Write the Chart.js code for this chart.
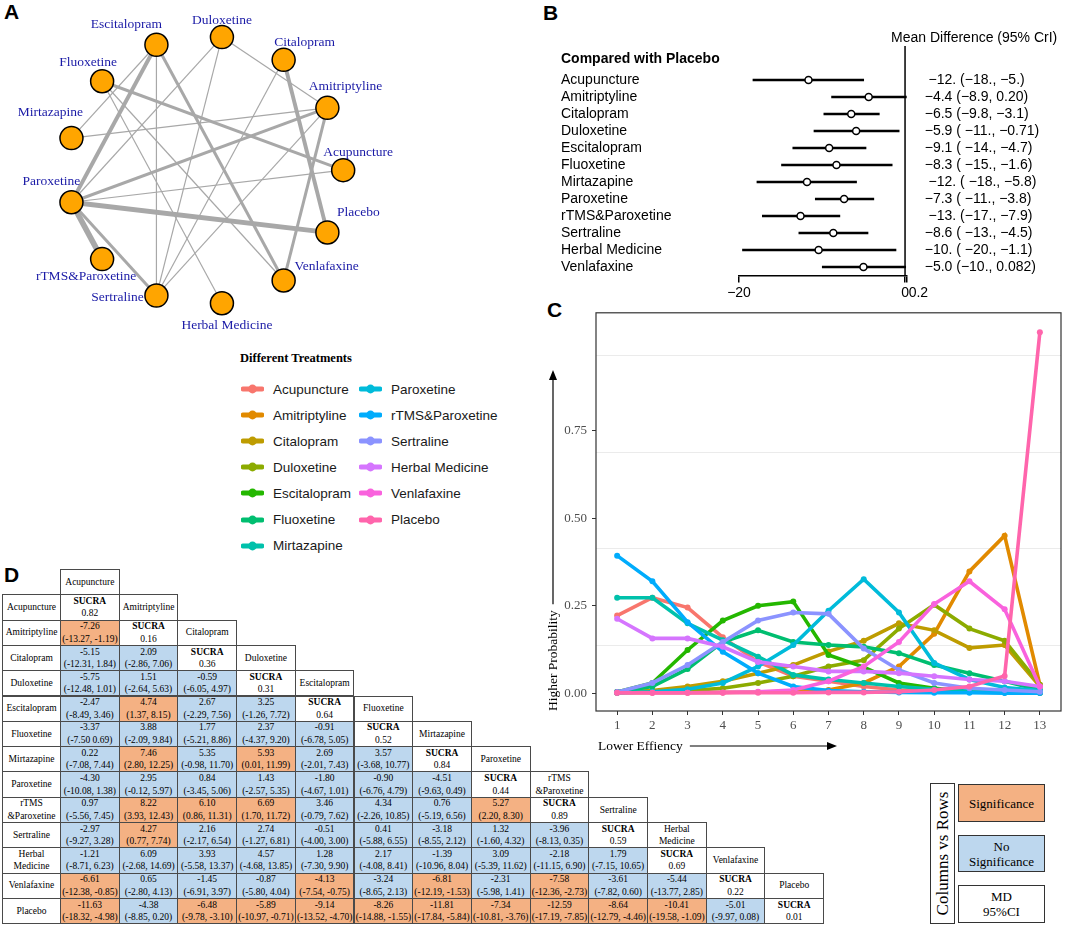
<!DOCTYPE html>
<html>
<head>
<meta charset="utf-8">
<script src="https://cdn.jsdelivr.net/npm/chart.js@4.4.1/dist/chart.umd.min.js"></script>
<style>
  body { margin: 0; background: #fff; width: 1065px; height: 926px; position: relative; overflow: hidden; font-family: "Liberation Sans", Arial, sans-serif; }
  .box { position: absolute; }
  .tag { position: absolute; font: bold 21px/21px "Liberation Sans", Arial, sans-serif; color: #000; }
  .cell { position: absolute; box-sizing: border-box; border: 1px solid #4a4a4a; display: flex; flex-direction: column; align-items: center; justify-content: center; text-align: center; font: 9.5px/12.5px "Liberation Serif", "Times New Roman", serif; color: #000; white-space: nowrap; }
  .leg-title { position: absolute; left: 240px; top: 351px; font: bold 12.5px "Liberation Serif", serif; }
  .leg-item { position: absolute; height: 16px; display: flex; align-items: center; font: 13.5px "Liberation Sans", Arial, sans-serif; color: #1a1a1a; }
  .leg-item svg { margin-right: 9px; }
  .key { position: absolute; box-sizing: border-box; border: 1.5px solid #333; display: flex; align-items: center; justify-content: center; text-align: center; font: 13px/15px "Liberation Serif", serif; }
</style>
</head>
<body>
<div class="tag" style="left:4px;top:1px">A</div>
<div class="tag" style="left:543px;top:2px">B</div>
<div class="tag" style="left:547px;top:299px">C</div>
<div class="tag" style="left:4px;top:564px">D</div>

<div class="box" style="left:0;top:0;width:420px;height:345px"><canvas id="net" width="420" height="345"></canvas></div>
<div class="box" style="left:545px;top:0;width:520px;height:300px"><canvas id="forest" width="520" height="300"></canvas></div>
<div class="box" style="left:545px;top:300px;width:520px;height:460px"><canvas id="rank" width="520" height="460"></canvas></div>
<div class="leg-title">Different Treatments</div>
<div id="legend"></div>
<div id="table"></div>

<div class="key" style="left:930px;top:783px;width:25px;height:141px"><span style="transform:rotate(-90deg);white-space:nowrap;font-size:17px">Columns vs Rows</span></div>
<div class="key" style="left:958px;top:784px;width:87px;height:38px;background:#F4B183">Significance</div>
<div class="key" style="left:958px;top:835px;width:87px;height:37px;background:#BDD7EE">No<br>Significance</div>
<div class="key" style="left:958px;top:885px;width:87px;height:38px;background:#fff">MD<br>95%CI</div>

<script>
// ---- data ----
const treatments = ["Acupuncture", "Amitriptyline", "Citalopram", "Duloxetine", "Escitalopram", "Fluoxetine",
  "Mirtazapine", "Paroxetine", "rTMS&Paroxetine", "Sertraline", "Herbal Medicine", "Venlafaxine", "Placebo"];

// network: [from, to, number of studies]
const networkEdges = [
  ["Paroxetine", "rTMS&Paroxetine", 6],
  ["Paroxetine", "Placebo", 5],
  ["Paroxetine", "Escitalopram", 4],
  ["Citalopram", "Placebo", 4],
  ["Fluoxetine", "Acupuncture", 3],
  ["Amitriptyline", "Paroxetine", 3],
  ["Paroxetine", "Sertraline", 3],
  ["Escitalopram", "Venlafaxine", 3],
  ["Amitriptyline", "Venlafaxine", 3],
  ["Escitalopram", "Sertraline", 1],
  ["Escitalopram", "Mirtazapine", 1],
  ["Duloxetine", "Paroxetine", 1],
  ["Duloxetine", "Sertraline", 1],
  ["Duloxetine", "Amitriptyline", 1],
  ["Citalopram", "Sertraline", 1],
  ["Amitriptyline", "Mirtazapine", 1],
  ["Amitriptyline", "Sertraline", 1],
  ["Acupuncture", "Paroxetine", 1],
  ["Fluoxetine", "Venlafaxine", 1],
  ["Fluoxetine", "Herbal Medicine", 1]
];

// forest plot (vs placebo)
const forestNames = treatments.slice(0, 12);
const forestMean = [-11.63, -4.38, -6.48, -5.89, -9.14, -8.26, -11.81, -7.34, -12.59, -8.64, -10.41, -5.01];
const forestLow = [-18.32, -8.85, -9.78, -10.97, -13.52, -14.88, -17.84, -10.81, -17.19, -12.79, -19.58, -9.97];
const forestHigh = [-4.98, 0.20, -3.10, -0.71, -4.70, -1.55, -5.84, -3.76, -7.85, -4.46, -1.09, 0.08];
const forestText = [" −12. (−18., −5.)", "−4.4 (−8.9, 0.20)", "−6.5 (−9.8, −3.1)", "−5.9 ( −11., −0.71)",
  "−9.1 ( −14., −4.7)", "−8.3 ( −15., −1.6)", " −12. ( −18., −5.8)", "−7.3 ( −11., −3.8)",
  " −13. (−17., −7.9)", "−8.6 ( −13., −4.5)", "−10. ( −20., −1.1)", "−5.0 (−10., 0.082)"];
const forestTicks = [-20, 0, 0.2];

// rank probabilities
const ranks = [1, 2, 3, 4, 5, 6, 7, 8, 9, 10, 11, 12, 13];
const probAcupuncture = [0.222, 0.273, 0.245, 0.16, 0.09, 0.049, 0.035, 0.02, 0.01, 0.006, 0.004, 0.003, 0.002];
const probAmitriptyline = [0.002, 0.002, 0.002, 0.003, 0.004, 0.006, 0.01, 0.03, 0.077, 0.17, 0.348, 0.45, 0.025];
const probCitalopram = [0.004, 0.008, 0.02, 0.035, 0.058, 0.081, 0.12, 0.15, 0.2, 0.18, 0.13, 0.138, 0.02];
const probDuloxetine = [0.002, 0.004, 0.008, 0.015, 0.03, 0.049, 0.077, 0.095, 0.185, 0.253, 0.185, 0.15, 0.025];
const probEscitalopram = [0.004, 0.03, 0.124, 0.208, 0.25, 0.262, 0.11, 0.075, 0.03, 0.015, 0.006, 0.003, 0.002];
const probFluoxetine = [0.004, 0.02, 0.07, 0.147, 0.18, 0.147, 0.138, 0.133, 0.115, 0.081, 0.058, 0.035, 0.01];
const probMirtazapine = [0.273, 0.273, 0.2, 0.152, 0.105, 0.053, 0.04, 0.03, 0.02, 0.012, 0.008, 0.005, 0.003];
const probParoxetine = [0.002, 0.005, 0.012, 0.03, 0.077, 0.138, 0.236, 0.326, 0.231, 0.087, 0.04, 0.017, 0.008];
const probRtms = [0.393, 0.32, 0.203, 0.119, 0.058, 0.02, 0.008, 0.005, 0.003, 0.002, 0.002, 0.001, 0.001];
const probSertraline = [0.004, 0.03, 0.081, 0.147, 0.208, 0.231, 0.227, 0.128, 0.067, 0.03, 0.015, 0.01, 0.005];
const probHerbal = [0.213, 0.157, 0.157, 0.133, 0.09, 0.077, 0.063, 0.063, 0.058, 0.049, 0.04, 0.035, 0.02];
const probVenlafaxine = [0.002, 0.002, 0.002, 0.003, 0.005, 0.01, 0.035, 0.077, 0.147, 0.255, 0.32, 0.24, 0.02];
const probPlacebo = [0.002, 0.002, 0.002, 0.002, 0.002, 0.002, 0.003, 0.003, 0.005, 0.01, 0.02, 0.05, 1.03];
const rankTicks = [0, 0.25, 0.5, 0.75];
const rankGrid = [0.138, 0.416, 0.688, 0.966];

// league table
const tableNames = ["Acupuncture", "Amitriptyline", "Citalopram", "Duloxetine", "Escitalopram", "Fluoxetine",
  "Mirtazapine", "Paroxetine", "rTMS<br>&amp;Paroxetine", "Sertraline", "Herbal<br>Medicine", "Venlafaxine", "Placebo"];
const sucra = ["0.82", "0.16", "0.36", "0.31", "0.64", "0.52", "0.84", "0.44", "0.89", "0.59", "0.69", "0.22", "0.01"];
const mdTable = [
  [],
  ["-7.26 (-13.27, -1.19)"],
  ["-5.15 (-12.31, 1.84)", "2.09 (-2.86, 7.06)"],
  ["-5.75 (-12.48, 1.01)", "1.51 (-2.64, 5.63)", "-0.59 (-6.05, 4.97)"],
  ["-2.47 (-8.49, 3.46)", "4.74 (1.37, 8.15)", "2.67 (-2.29, 7.56)", "3.25 (-1.26, 7.72)"],
  ["-3.37 (-7.50 0.69)", "3.88 (-2.09, 9.84)", "1.77 (-5.21, 8.86)", "2.37 (-4.37, 9.20)", "-0.91 (-6.78, 5.05)"],
  ["0.22 (-7.08, 7.44)", "7.46 (2.80, 12.25)", "5.35 (-0.98, 11.70)", "5.93 (0.01, 11.99)", "2.69 (-2.01, 7.43)", "3.57 (-3.68, 10.77)"],
  ["-4.30 (-10.08, 1.38)", "2.95 (-0.12, 5.97)", "0.84 (-3.45, 5.06)", "1.43 (-2.57, 5.35)", "-1.80 (-4.67, 1.01)", "-0.90 (-6.76, 4.79)", "-4.51 (-9.63, 0.49)"],
  ["0.97 (-5.56, 7.45)", "8.22 (3.93, 12.43)", "6.10 (0.86, 11.31)", "6.69 (1.70, 11.72)", "3.46 (-0.79, 7.62)", "4.34 (-2.26, 10.85)", "0.76 (-5.19, 6.56)", "5.27 (2.20, 8.30)"],
  ["-2.97 (-9.27, 3.28)", "4.27 (0.77, 7.74)", "2.16 (-2.17, 6.54)", "2.74 (-1.27, 6.81)", "-0.51 (-4.00, 3.00)", "0.41 (-5.88, 6.55)", "-3.18 (-8.55, 2.12)", "1.32 (-1.60, 4.32)", "-3.96 (-8.13, 0.35)"],
  ["-1.21 (-8.71, 6.23)", "6.09 (-2.68, 14.69)", "3.93 (-5.58, 13.37)", "4.57 (-4.68, 13.85)", "1.28 (-7.30, 9.90)", "2.17 (-4.08, 8.41)", "-1.39 (-10.96, 8.04)", "3.09 (-5.39, 11.62)", "-2.18 (-11.15, 6.90)", "1.79 (-7.15, 10.65)"],
  ["-6.61 (-12.38, -0.85)", "0.65 (-2.80, 4.13)", "-1.45 (-6.91, 3.97)", "-0.87 (-5.80, 4.04)", "-4.13 (-7.54, -0.75)", "-3.24 (-8.65, 2.13)", "-6.81 (-12.19, -1.53)", "-2.31 (-5.98, 1.41)", "-7.58 (-12.36, -2.73)", "-3.61 (-7.82, 0.60)", "-5.44 (-13.77, 2.85)"],
  ["-11.63 (-18.32, -4.98)", "-4.38 (-8.85, 0.20)", "-6.48 (-9.78, -3.10)", "-5.89 (-10.97, -0.71)", "-9.14 (-13.52, -4.70)", "-8.26 (-14.88, -1.55)", "-11.81 (-17.84, -5.84)", "-7.34 (-10.81, -3.76)", "-12.59 (-17.19, -7.85)", "-8.64 (-12.79, -4.46)", "-10.41 (-19.58, -1.09)", "-5.01 (-9.97, 0.08)"]
];

// ---- styles ----
const hueColors = ["#F8766D", "#E18A00", "#BE9C00", "#8CAB00", "#24B700", "#00BE70", "#00C1AB",
  "#00BBDA", "#00ACFC", "#8B93FF", "#D575FE", "#F962DD", "#FF65AC"];
const SANS = '"Liberation Sans", Arial, sans-serif';
const SERIF = '"Liberation Serif", "Times New Roman", serif';
Chart.defaults.font.family = SANS;

// ---- A: network ----
const labelOffsets = [[15, -18], [18, -21], [21, -17], [0, -17], [-30, -20], [-14, -19], [-21, -26],
  [-20, -21], [-16, 17], [-39, 2], [5, 22], [43, -14], [31, -20]];
const nodePos = (name) => {
  const a = treatments.indexOf(name) * 2 * Math.PI / treatments.length;
  return { x: Math.cos(a), y: Math.sin(a) };
};

const netLabels = {
  id: "netLabels",
  afterDatasetsDraw(chart) {
    const ctx = chart.ctx;
    const meta = chart.getDatasetMeta(chart.data.datasets.length - 1);
    ctx.save();
    ctx.font = "13.5px " + SERIF;
    ctx.fillStyle = "#1a1aa6";
    ctx.textAlign = "center";
    ctx.textBaseline = "middle";
    meta.data.forEach((p, i) => {
      ctx.fillText(treatments[i], p.x + labelOffsets[i][0], p.y + labelOffsets[i][1]);
    });
    ctx.restore();
  }
};

const edgeSets = networkEdges.map((e) => ({
  data: [nodePos(e[0]), nodePos(e[1])],
  showLine: true,
  borderColor: "#a8a8a8",
  borderWidth: 0.9 * e[2] + 0.3,
  pointRadius: 0,
  order: 1
}));

new Chart(document.getElementById("net"), {
  type: "scatter",
  data: {
    datasets: [...edgeSets, {
      data: treatments.map(nodePos),
      pointRadius: 11.5,
      pointBackgroundColor: "#FFA500",
      pointBorderColor: "#000",
      pointBorderWidth: 1.5,
      order: 0
    }]
  },
  options: {
    responsive: false,
    animation: false,
    clip: false,
    layout: { padding: 0 },
    plugins: { legend: { display: false }, tooltip: { enabled: false } },
    scales: {
      x: { type: "linear", display: false, min: -1.395, max: 1.463 },
      y: { type: "linear", display: false, min: -1.207, max: 1.172 }
    }
  },
  plugins: [netLabels]
});

// ---- B: forest plot ----
const forestFont = { family: SANS, size: 14 };
const forestDecor = {
  id: "forestDecor",
  beforeDatasetsDraw(chart) {
    const { ctx, chartArea } = chart;
    const x0 = chart.scales.x.getPixelForValue(0);
    ctx.save();
    ctx.strokeStyle = "#000";
    ctx.lineWidth = 1.5;
    ctx.beginPath();
    ctx.moveTo(x0, 46);
    ctx.lineTo(x0, chartArea.bottom);
    ctx.stroke();
    ctx.fillStyle = "#000";
    ctx.textBaseline = "middle";
    ctx.font = "bold 14px " + SANS;
    ctx.fillText("Compared with Placebo", 16, 59);
    ctx.font = "14px " + SANS;
    ctx.fillText("Mean Difference (95% CrI)", 346, 38);
    ctx.restore();
  }
};

new Chart(document.getElementById("forest"), {
  type: "bar",
  data: {
    labels: forestNames,
    datasets: [
      {
        type: "bar",
        data: forestLow.map((lo, i) => [lo, forestHigh[i]]),
        backgroundColor: "#000",
        barThickness: 2,
        order: 1
      },
      {
        type: "line",
        data: forestMean.map((m, i) => ({ x: m, y: forestNames[i] })),
        showLine: false,
        pointRadius: 3.5,
        pointBorderWidth: 1.5,
        pointBorderColor: "#000",
        pointBackgroundColor: "#fff",
        order: 0
      }
    ]
  },
  options: {
    indexAxis: "y",
    responsive: false,
    animation: false,
    layout: { padding: { left: 16, top: 71.5, right: 0, bottom: 0 } },
    plugins: { legend: { display: false }, tooltip: { enabled: false } },
    scales: {
      x: {
        type: "linear",
        min: -20,
        max: 0.2,
        afterBuildTicks: (s) => { s.ticks = forestTicks.map((v) => ({ value: v })); },
        afterFit: (s) => { s.height = 24.5; },
        ticks: {
          autoSkip: false,
          maxRotation: 0,
          padding: 2,
          color: "#000",
          font: forestFont,
          callback: (v) => (v === 0.2 ? "\u2007\u2007\u20070.2" : String(v).replace("-", "\u2212"))
        },
        grid: { drawOnChartArea: false, drawTicks: true, tickLength: 7, color: "#000", lineWidth: 1.5 },
        border: { color: "#000", width: 1.5 }
      },
      y: {
        type: "category",
        afterFit: (s) => { s.width = 178; },
        grid: { display: false },
        border: { display: false },
        ticks: { autoSkip: false, crossAlign: "far", color: "#000", font: forestFont }
      },
      y2: {
        type: "category",
        position: "right",
        labels: forestText,
        afterFit: (s) => { s.width = 158.3; },
        grid: { display: false },
        border: { display: false },
        ticks: { autoSkip: false, crossAlign: "near", padding: 10, color: "#000", font: forestFont }
      }
    }
  },
  plugins: [forestDecor]
});

// ---- C: rank probabilities ----
const rankSeries = [probAcupuncture, probAmitriptyline, probCitalopram, probDuloxetine, probEscitalopram,
  probFluoxetine, probMirtazapine, probParoxetine, probRtms, probSertraline, probHerbal, probVenlafaxine, probPlacebo];

const rankDecor = {
  id: "rankDecor",
  beforeDatasetsDraw(chart) {
    const { ctx, chartArea } = chart;
    const y = chart.scales.y;
    ctx.save();
    ctx.strokeStyle = "#ebebeb";
    ctx.lineWidth = 1;
    rankGrid.forEach((v) => {
      const py = Math.round(y.getPixelForValue(v)) + 0.5;
      ctx.beginPath();
      ctx.moveTo(chartArea.left, py);
      ctx.lineTo(chartArea.right, py);
      ctx.stroke();
    });
    ctx.restore();
  },
  afterDraw(chart) {
    const { ctx, chartArea } = chart;
    ctx.save();
    ctx.strokeStyle = "#333";
    ctx.lineWidth = 1.2;
    ctx.strokeRect(chartArea.left, chartArea.top, chartArea.right - chartArea.left, chartArea.bottom - chartArea.top);
    ctx.fillStyle = "#000";
    ctx.strokeStyle = "#000";
    ctx.font = "13.5px " + SERIF;
    ctx.textBaseline = "middle";
    // y title with arrow
    const tw = ctx.measureText("Higher Probability").width;
    ctx.save();
    ctx.translate(8, chartArea.bottom);
    ctx.rotate(-Math.PI / 2);
    ctx.textAlign = "left";
    ctx.fillText("Higher Probability", 0, 0);
    ctx.restore();
    const yTop = 70;
    ctx.lineWidth = 1.2;
    ctx.beginPath();
    ctx.moveTo(8, chartArea.bottom - tw - 6);
    ctx.lineTo(8, yTop + 6);
    ctx.stroke();
    ctx.beginPath();
    ctx.moveTo(8, yTop);
    ctx.lineTo(4, yTop + 10);
    ctx.lineTo(12, yTop + 10);
    ctx.closePath();
    ctx.fill();
    // x title with arrow
    ctx.textAlign = "left";
    const xw = ctx.measureText("Lower Effiency").width;
    ctx.fillText("Lower Effiency", 53, 446);
    const xEnd = 292;
    ctx.beginPath();
    ctx.moveTo(53 + xw + 7, 446);
    ctx.lineTo(xEnd - 6, 446);
    ctx.stroke();
    ctx.beginPath();
    ctx.moveTo(xEnd, 446);
    ctx.lineTo(xEnd - 10, 442);
    ctx.lineTo(xEnd - 10, 450);
    ctx.closePath();
    ctx.fill();
    ctx.restore();
  }
};

new Chart(document.getElementById("rank"), {
  type: "line",
  data: {
    datasets: rankSeries.map((vals, i) => ({
      label: treatments[i],
      data: ranks.map((r, k) => ({ x: r, y: vals[k] })),
      borderColor: hueColors[i],
      backgroundColor: hueColors[i],
      borderWidth: 3.6,
      pointRadius: 3,
      pointBorderWidth: 0,
      order: rankSeries.length - 1 - i
    }))
  },
  options: {
    responsive: false,
    animation: false,
    layout: { padding: { left: 0, top: 9, right: 3, bottom: 0 } },
    plugins: { legend: { display: false }, tooltip: { enabled: false } },
    scales: {
      x: {
        type: "linear",
        min: 0.4,
        max: 13.6,
        afterBuildTicks: (s) => { s.ticks = ranks.map((v) => ({ value: v })); },
        afterFit: (s) => { s.height = 49; },
        ticks: { autoSkip: false, maxRotation: 0, padding: 3, color: "#4d4d4d", font: { family: SERIF, size: 13 } },
        grid: { drawOnChartArea: false, drawTicks: true, tickLength: 4, color: "#333" },
        border: { display: false }
      },
      y: {
        type: "linear",
        min: -0.05,
        max: 1.0856,
        afterBuildTicks: (s) => { s.ticks = rankTicks.map((v) => ({ value: v })); },
        afterFit: (s) => { s.width = 51; },
        ticks: { padding: 5, color: "#4d4d4d", font: { family: SERIF, size: 13 }, callback: (v) => v.toFixed(2) },
        grid: { drawOnChartArea: false, drawTicks: true, tickLength: 4, color: "#333" },
        border: { display: false }
      }
    }
  },
  plugins: [rankDecor]
});

// legend for C
const legendEl = document.getElementById("legend");
treatments.forEach((name, i) => {
  const col = i < 7 ? 0 : 1;
  const row = i < 7 ? i : i - 7;
  const item = document.createElement("div");
  item.className = "leg-item";
  item.style.left = (col === 0 ? 241 : 359) + "px";
  item.style.top = (381 + row * 26.1) + "px";
  item.innerHTML = '<svg width="23" height="12"><line x1="2" y1="6" x2="21" y2="6" stroke="' + hueColors[i] +
    '" stroke-width="4.8" stroke-linecap="round"/><circle cx="11.5" cy="6" r="4.4" fill="' + hueColors[i] + '"/></svg>' +
    name;
  legendEl.appendChild(item);
});

// ---- D: league table ----
const tableEl = document.getElementById("table");
const colW = 58.7, colX0 = 60, rowY0 = 569, rowH = 25.3;
function addCell(x, y, w, html, bg) {
  const d = document.createElement("div");
  d.className = "cell";
  d.style.left = x + "px";
  d.style.top = y + "px";
  d.style.width = (w + 1) + "px";
  d.style.height = (rowH + 1) + "px";
  d.style.background = bg || "#fff";
  d.innerHTML = html;
  tableEl.appendChild(d);
}
addCell(colX0, rowY0, colW, tableNames[0]);
treatments.forEach((t, r) => {
  const y = rowY0 + (r + 1) * rowH;
  addCell(2, y, colX0 - 2, tableNames[r]);
  mdTable[r].forEach((txt, c) => {
    const sp = txt.indexOf(" ");
    const md = txt.slice(0, sp), ci = txt.slice(sp + 1);
    const nums = ci.match(/-?\d+\.\d+/g).map(Number);
    const sig = nums[0] * nums[1] > 0;
    addCell(colX0 + c * colW, y, colW, md + "<br>" + ci, sig ? "#F4B183" : "#BDD7EE");
  });
  addCell(colX0 + r * colW, y, colW, "<b>SUCRA</b>" + sucra[r]);
  if (r + 1 < treatments.length) addCell(colX0 + (r + 1) * colW, y, colW, tableNames[r + 1]);
});
</script>
</body>
</html>
